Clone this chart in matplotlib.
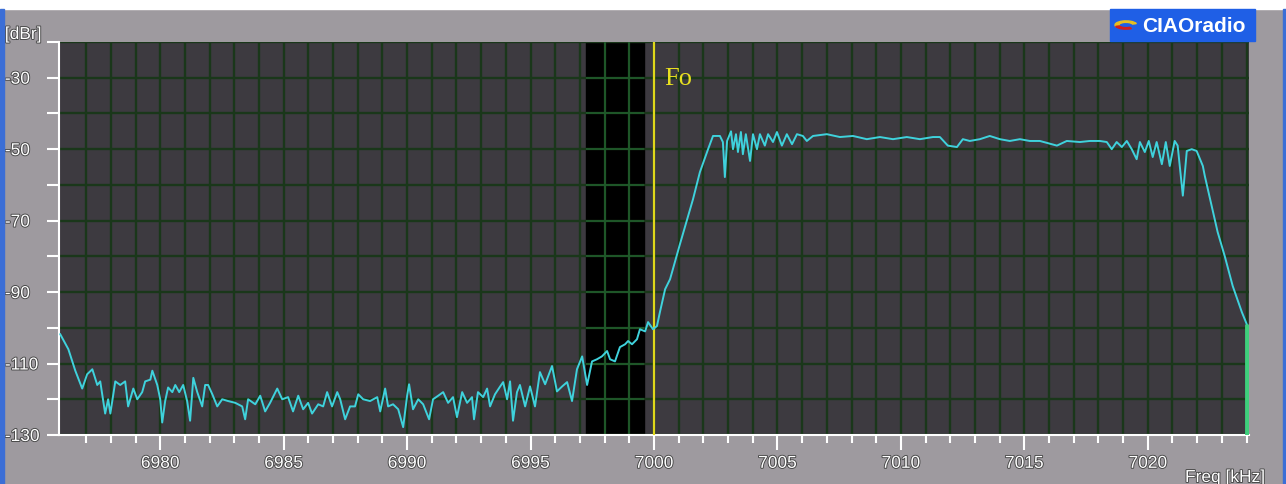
import matplotlib
matplotlib.use('Agg')
import matplotlib.pyplot as plt
import matplotlib.patheffects as pe
from matplotlib.patches import Rectangle, Wedge
import numpy as np

# measured trace, frequency in kHz, level in dBr
freq = [6975.95, 6976.28, 6976.56, 6976.84, 6977.04, 6977.25, 6977.45, 6977.57, 6977.77, 6977.89,
        6977.98, 6978.18, 6978.38, 6978.58, 6978.70, 6978.91, 6979.07, 6979.27, 6979.39, 6979.60,
        6979.68, 6979.88, 6980.00, 6980.08, 6980.20, 6980.32, 6980.49, 6980.61, 6980.77, 6980.93,
        6981.09, 6981.21, 6981.34, 6981.50, 6981.70, 6981.82, 6981.94, 6982.11, 6982.31, 6982.51,
        6982.75, 6983.04, 6983.32, 6983.44, 6983.56, 6983.85, 6984.05, 6984.25, 6984.45, 6984.74,
        6984.94, 6985.18, 6985.38, 6985.59, 6985.79, 6985.99, 6986.15, 6986.40, 6986.60, 6986.76,
        6986.96, 6987.17, 6987.29, 6987.49, 6987.69, 6987.89, 6988.02, 6988.22, 6988.50, 6988.79,
        6988.91, 6989.11, 6989.23, 6989.43, 6989.64, 6989.84, 6990.00, 6990.08, 6990.24, 6990.45,
        6990.65, 6990.89, 6991.05, 6991.26, 6991.46, 6991.66, 6991.86, 6992.02, 6992.23, 6992.43,
        6992.63, 6992.71, 6992.87, 6993.08, 6993.24, 6993.36, 6993.56, 6993.77, 6993.89, 6994.05,
        6994.17, 6994.29, 6994.45, 6994.57, 6994.78, 6994.98, 6995.18, 6995.38, 6995.59, 6995.87,
        6996.07, 6996.28, 6996.48, 6996.68, 6996.88, 6997.09, 6997.29, 6997.49, 6997.69, 6997.89,
        6998.10, 6998.22, 6998.42, 6998.62, 6998.83, 6998.95, 6999.11, 6999.31, 6999.43, 6999.64,
        6999.76, 6999.96, 7000.12, 7000.24, 7000.45, 7000.65, 7001.05, 7001.58, 7001.86, 7002.19,
        7002.39, 7002.67, 7002.79, 7002.87, 7002.96, 7003.12, 7003.20, 7003.32, 7003.40, 7003.52,
        7003.60, 7003.72, 7003.89, 7004.01, 7004.17, 7004.29, 7004.49, 7004.62, 7004.82, 7004.98,
        7005.18, 7005.38, 7005.59, 7005.79, 7006.03, 7006.19, 7006.44, 7007.00, 7007.53, 7008.06,
        7008.62, 7009.15, 7009.68, 7010.24, 7010.77, 7011.30, 7011.58, 7011.90, 7012.27, 7012.51,
        7012.79, 7013.20, 7013.60, 7014.01, 7014.41, 7014.82, 7015.22, 7015.63, 7016.32, 7016.72,
        7017.25, 7017.65, 7018.06, 7018.34, 7018.54, 7018.74, 7018.95, 7019.15, 7019.35, 7019.55,
        7019.68, 7019.88, 7020.04, 7020.20, 7020.36, 7020.57, 7020.73, 7020.89, 7021.09, 7021.21,
        7021.42, 7021.58, 7021.78, 7021.98, 7022.23, 7022.31, 7022.59, 7022.83, 7023.12, 7023.44,
        7023.81, 7024.01]
level = [-101.8, -106, -112, -117, -113, -111.6, -116, -115, -124, -120,
         -124, -115, -116, -115, -122, -117, -120, -118, -115, -114.5,
         -112, -116, -120, -126.5, -120.5, -116.7, -118, -116, -118, -116,
         -120.5, -126, -114, -118, -122, -116, -116, -118.6, -122, -120,
         -120.5, -121, -122, -125.6, -120, -121.4, -119, -123.4, -121, -117,
         -120, -119.4, -123.4, -119, -122.8, -121, -124, -121.4, -122, -118,
         -122, -118, -120, -125.6, -122, -122, -118.6, -120, -120.5, -119.4,
         -123.4, -117, -122, -121.4, -122.8, -127.8, -119, -115.8, -122.8, -120,
         -121.4, -125.6, -120, -119, -118, -121, -119.4, -125, -118, -121,
         -119.4, -125.6, -118, -119.4, -117, -122, -118.6, -116.4, -115.2, -120,
         -115, -126, -118, -116, -122, -116.4, -122, -112.4, -115.8, -110.7,
         -117.8, -116.4, -115.2, -120.5, -111.6, -108, -116, -109.4, -108.8, -108,
         -106.5, -108.8, -109.4, -105.4, -104.6, -103.7, -104.6, -103.2, -100.4, -101,
         -98.4, -100.4, -99.5, -95.6, -89.2, -86.4, -76.6, -64, -56.4, -50,
         -46.3, -46.3, -48, -57.8, -47.7, -45, -50, -45.8, -50.8, -45.2,
         -51.4, -45.8, -53.3, -45.8, -50, -45.8, -49, -45.8, -48, -45.2,
         -49, -45.8, -48.6, -45.8, -46.3, -47.7, -46.3, -45.8, -46.6, -46.3,
         -47.2, -46.6, -47.2, -46.6, -47.2, -46.6, -46.6, -49, -49.4, -47.2,
         -47.7, -47.2, -46.3, -47.2, -47.7, -47.2, -47.7, -47.7, -49, -47.7,
         -48, -47.7, -47.7, -48, -50, -48, -49.4, -47.7, -50, -52.8,
         -48, -50.8, -47.7, -52.2, -48, -54.2, -48, -54.7, -47.7, -49,
         -63, -50.5, -50, -50.5, -54.7, -57.5, -66, -73.2, -80, -88.3,
         -95.6, -99]

x_ticks_major = [6980, 6985, 6990, 6995, 7000, 7005, 7010, 7015, 7020]
y_ticks = [-130, -120, -110, -100, -90, -80, -70, -60, -50, -40, -30, -20]
y_labels = ['-130', '', '-110', '', '-90', '', '-70', '', '-50', '', '-30', '[dBr]']
marker_band = (6997.25, 6999.6)
f0 = 7000
x_min, x_max = 6975.9, 7024.1

fig_bg = '#9e9a9f'
plot_bg = '#3d3a40'
grid_c = '#1a371a'
trace_c = '#3fd2dc'
lab_font = 'Liberation Sans'

fig = plt.figure(figsize=(12.86, 4.85), dpi=100, facecolor=fig_bg)
ax = fig.add_axes([59/1286, 1-436/485, 1190/1286, 393/485])
ax.set_facecolor(plot_bg)

# window decoration
fig.patches.append(Rectangle((0, 1-10/485), 1, 10/485, transform=fig.transFigure, color='white', zorder=0))
fig.patches.append(Rectangle((0, 0), 4/1286, 1-10/485, transform=fig.transFigure, color='#3b6ed6', zorder=0))
fig.patches.append(Rectangle((1-3/1286, 0), 3/1286, 1-10/485, transform=fig.transFigure, color='#3b6ed6', zorder=0))

ax.set_xlim(x_min, x_max)
ax.set_ylim(-130, -20)

ax.set_xticks(x_ticks_major)
ax.set_xticks(np.arange(6977, 7025, 1), minor=True)
ax.set_yticks(y_ticks)
ax.set_yticklabels(y_labels)

ax.grid(True, which='both', axis='x', color=grid_c, lw=1.7)
ax.grid(True, which='major', axis='y', color=grid_c, lw=1.7)

outline = [pe.withStroke(linewidth=1.3, foreground='#444444')]
ax.tick_params(axis='x', which='major', length=11, width=1.5, color='white', pad=4,
               labelsize=12.5, labelcolor='white')
ax.tick_params(axis='x', which='minor', length=6, width=1.5, color='white')
ax.tick_params(axis='y', length=9, width=1.5, color='white', pad=30,
               labelsize=12.5, labelcolor='white')
for lab in ax.get_yticklabels():
    lab.set_horizontalalignment('left')
    lab.set_family(lab_font)
    lab.set_path_effects(outline)
ax.get_yticklabels()[-1].set_verticalalignment('bottom')
for lab in ax.get_xticklabels():
    lab.set_family(lab_font)
    lab.set_path_effects(outline)

for s in ['top', 'right']:
    ax.spines[s].set_visible(False)
for s in ['left', 'bottom']:
    ax.spines[s].set_color('white')
    ax.spines[s].set_linewidth(1.5)

# marker band with brighter grid inside
ax.axvspan(marker_band[0], marker_band[1], color='black', zorder=1)
ax.hlines(y_ticks[:-1], marker_band[0], marker_band[1], color='#1f5a2a', lw=1.3, zorder=1.6)
ax.vlines([6998, 6999], -130, -20, color='#1f5a2a', lw=1.3, zorder=1.6)

ax.axvline(f0, color='#e0d81a', lw=1.6, zorder=3)
ax.text(7000.4, -30, 'Fo', color='#e8e020', fontsize=19, family='Liberation Serif',
        va='center', ha='left')

ax.plot(freq, level, color=trace_c, lw=1.4, zorder=4)
ax.vlines(freq[-1], -130, level[-1], color='#3ecf7c', lw=3.5, zorder=5)

fig.text(1185/1286, 1-471/485, 'Freq [kHz]', color='white', fontsize=12.5, va='top', ha='left',
         family=lab_font, path_effects=outline)

# logo
fig.patches.append(Rectangle((1110/1286, 1-42/485), 145/1286, 32/485, transform=fig.transFigure,
                             color='#1f5fe6', zorder=1))
lx, ly = 1126, 26
fig.patches.append(Wedge((lx/1286, 1-ly/485), 11/1286, 20, 200, width=4/1286,
                         transform=fig.transFigure, color='#e8c020', zorder=2))
fig.patches.append(Wedge((lx/1286, 1-ly/485), 11/1286, 200, 300, width=4/1286,
                         transform=fig.transFigure, color='#d02020', zorder=2))
fig.text(1142/1286, 1-26/485, 'CIAOradio', color='white', fontsize=15, fontweight='bold',
         va='center', ha='left', family=lab_font)

fig.savefig('out.png', dpi=100, facecolor=fig_bg)
